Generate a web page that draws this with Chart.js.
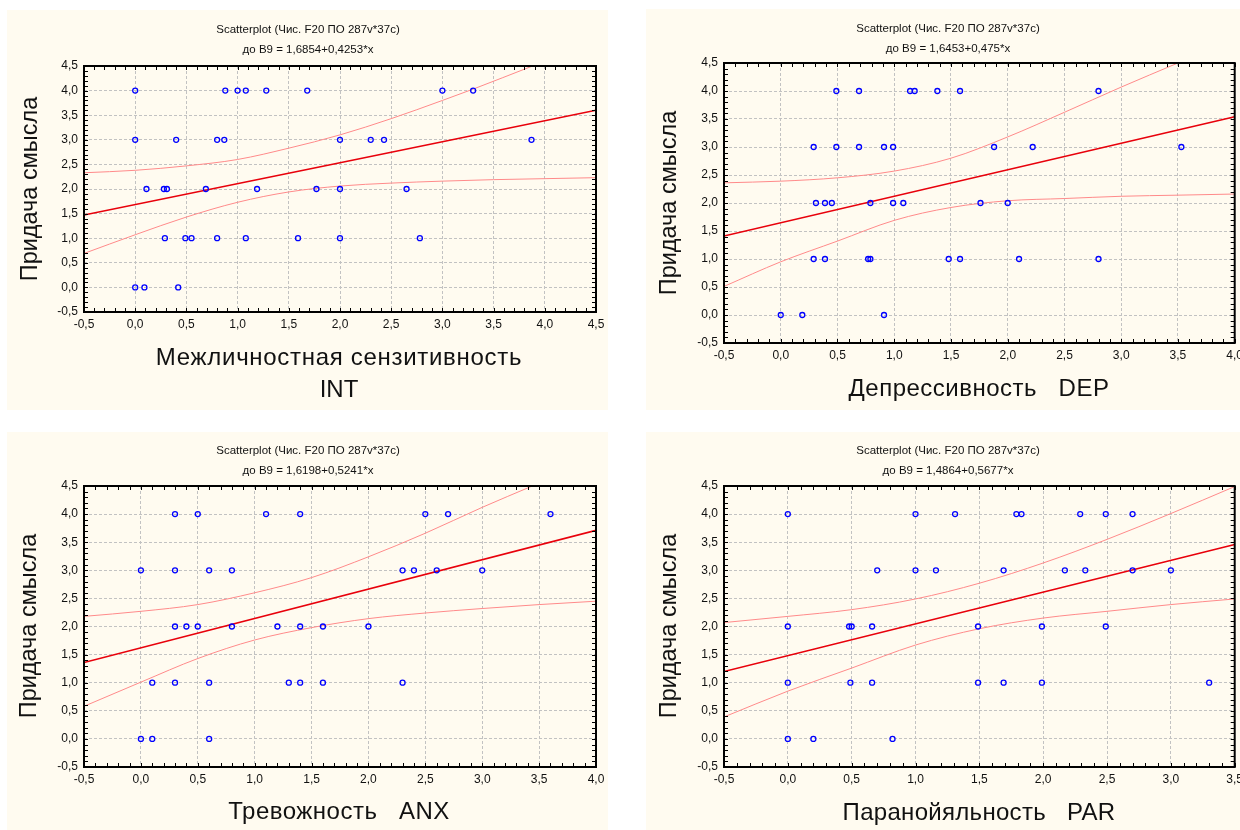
<!DOCTYPE html>
<html>
<head>
<meta charset="utf-8">
<script src="https://cdn.jsdelivr.net/npm/chart.js@4/dist/chart.umd.min.js"></script>
<style>
  body { margin: 0; width: 1240px; height: 830px; background: #fff; position: relative; overflow: hidden; }
  .panel { position: absolute; background: #fffbf0; }
  canvas { display: block; }
</style>
</head>
<body>
<div class="panel" style="left:7px;top:10px;width:601px;height:400px"><canvas id="c1" width="601" height="400"></canvas></div>
<div class="panel" style="left:646px;top:9px;width:594px;height:401px"><canvas id="c2" width="594" height="401"></canvas></div>
<div class="panel" style="left:7px;top:432px;width:601px;height:398px"><canvas id="c3" width="601" height="398"></canvas></div>
<div class="panel" style="left:646px;top:432px;width:594px;height:398px"><canvas id="c4" width="594" height="398"></canvas></div>
<script>
// ---- data ----
const yRange = [-0.5, 4.5]

// INT
const intRange = [-0.5, 4.5]
const intX = [0, 0.88, 1.0, 1.08, 1.28, 1.68, 3.0, 3.3,
  0, 0.4, 0.8, 0.87, 2.0, 2.3, 2.43, 3.87,
  0.11, 0.28, 0.31, 0.69, 1.19, 1.77, 2.0, 2.65,
  0.29, 0.49, 0.55, 0.8, 1.08, 1.59, 2.0, 2.78,
  0, 0.09, 0.42]
const intY = [4, 4, 4, 4, 4, 4, 4, 4,
  3, 3, 3, 3, 3, 3, 3, 3,
  2, 2, 2, 2, 2, 2, 2, 2,
  1, 1, 1, 1, 1, 1, 1, 1,
  0, 0, 0]
const intFitX = [-0.5, 4.5]
const intFitY = [1.47, 3.6]
const intUpX = [-0.5, 0, 0.5, 1, 1.5, 2, 2.5, 3, 3.3, 3.88]
const intUpY = [2.33, 2.38, 2.47, 2.6, 2.83, 3.1, 3.43, 3.8, 4.03, 4.5]
const intLoX = [-0.5, 0, 0.5, 1, 1.5, 2, 2.5, 3, 3.5, 4, 4.5]
const intLoY = [0.69, 1.07, 1.43, 1.73, 1.94, 2.06, 2.12, 2.16, 2.19, 2.21, 2.23]

// DEP
const depRange = [-0.5, 4.0]
const depX = [0.49, 0.69, 1.14, 1.18, 1.38, 1.58, 2.8,
  0.29, 0.49, 0.69, 0.91, 0.99, 1.88, 2.22, 3.53,
  0.31, 0.39, 0.45, 0.79, 0.99, 1.08, 1.76, 2.0,
  0.29, 0.39, 0.77, 0.79, 1.48, 1.58, 2.1, 2.8,
  0, 0.19, 0.91]
const depY = [4, 4, 4, 4, 4, 4, 4,
  3, 3, 3, 3, 3, 3, 3, 3,
  2, 2, 2, 2, 2, 2, 2, 2,
  1, 1, 1, 1, 1, 1, 1, 1,
  0, 0, 0]
const depFitX = [-0.5, 4.0]
const depFitY = [1.41, 3.54]
const depUpX = [-0.5, 0, 0.5, 1, 1.5, 2, 2.5, 3, 3.5]
const depUpY = [2.36, 2.39, 2.45, 2.57, 2.8, 3.18, 3.62, 4.07, 4.5]
const depLoX = [-0.5, 0, 0.5, 1, 1.5, 2, 2.5, 3, 3.5, 4]
const depLoY = [0.51, 0.95, 1.32, 1.69, 1.92, 2.04, 2.08, 2.12, 2.14, 2.16]

// ANX
const anxRange = [-0.5, 4.0]
const anxX = [0.3, 0.5, 1.1, 1.4, 2.5, 2.7, 3.6,
  0, 0.3, 0.6, 0.8, 2.3, 2.4, 2.6, 3.0,
  0.3, 0.4, 0.5, 0.8, 1.2, 1.4, 1.6, 2.0,
  0.1, 0.3, 0.6, 1.3, 1.4, 1.6, 2.3,
  0, 0.1, 0.6]
const anxY = [4, 4, 4, 4, 4, 4, 4,
  3, 3, 3, 3, 3, 3, 3, 3,
  2, 2, 2, 2, 2, 2, 2, 2,
  1, 1, 1, 1, 1, 1, 1,
  0, 0, 0]
const anxFitX = [-0.5, 4.0]
const anxFitY = [1.36, 3.71]
const anxUpX = [-0.5, 0, 0.5, 1, 1.5, 2, 2.5, 3, 3.44]
const anxUpY = [2.18, 2.27, 2.39, 2.6, 2.87, 3.24, 3.66, 4.12, 4.5]
const anxLoX = [-0.5, 0, 0.5, 1, 1.5, 2, 2.5, 3, 3.5, 4]
const anxLoY = [0.58, 1.01, 1.43, 1.76, 1.98, 2.14, 2.24, 2.32, 2.39, 2.45]

// PAR
const parRange = [-0.5, 3.5]
const parX = [0, 1.0, 1.31, 1.79, 1.83, 2.29, 2.49, 2.7,
  0.7, 1.0, 1.16, 1.69, 2.17, 2.33, 2.7, 3.0,
  0, 0.48, 0.5, 0.66, 1.49, 1.99, 2.49,
  0, 0.49, 0.66, 1.49, 1.69, 1.99, 3.3,
  0, 0.2, 0.82]
const parY = [4, 4, 4, 4, 4, 4, 4, 4,
  3, 3, 3, 3, 3, 3, 3, 3,
  2, 2, 2, 2, 2, 2, 2,
  1, 1, 1, 1, 1, 1, 1,
  0, 0, 0]
const parFitX = [-0.5, 3.5]
const parFitY = [1.2, 3.46]
const parUpX = [-0.5, 0, 0.5, 1, 1.5, 2, 2.5, 3, 3.5]
const parUpY = [2.07, 2.18, 2.3, 2.49, 2.77, 3.13, 3.55, 4.01, 4.49]
const parLoX = [-0.5, 0, 0.5, 1, 1.5, 2, 2.5, 3, 3.5]
const parLoY = [0.39, 0.85, 1.26, 1.67, 1.96, 2.15, 2.27, 2.39, 2.49]

const yTitle = 'Придача смысла'
const heading = 'Scatterplot (Чис. F20 ПО 287v*37c)'

// ---- drawing ----
const FONT = '"Liberation Sans", Arial, sans-serif'
const pts = (xs, ys) => xs.map((x, i) => ({x, y: ys[i]}))
const fmt = v => (Math.round(v * 10) / 10).toFixed(1).replace('.', ',')

const framePlugin = {
  id: 'frame',
  afterDraw(chart) {
    const {ctx, chartArea: a, scales: {x, y}} = chart
    ctx.save()
    ctx.strokeStyle = '#000'
    ctx.lineWidth = 1
    ctx.beginPath()
    for (let v = x.min; v <= x.max + 1e-6; v += 0.1) {
      const px = Math.round(x.getPixelForValue(v)) + 0.5
      ctx.moveTo(px, a.top); ctx.lineTo(px, a.top + 4)
      ctx.moveTo(px, a.bottom); ctx.lineTo(px, a.bottom - 4)
    }
    for (let v = y.min; v <= y.max + 1e-6; v += 0.1) {
      const py = Math.round(y.getPixelForValue(v)) + 0.5
      ctx.moveTo(a.left, py); ctx.lineTo(a.left + 4, py)
      ctx.moveTo(a.right, py); ctx.lineTo(a.right - 4, py)
    }
    ctx.stroke()
    ctx.lineWidth = 2
    ctx.strokeRect(a.left, a.top, a.right - a.left, a.bottom - a.top)
    ctx.restore()
  }
}

const textPlugin = {
  id: 'texts',
  afterDraw(chart, args, opts) {
    const {ctx} = chart
    ctx.save()
    ctx.fillStyle = '#111'
    ctx.textBaseline = 'alphabetic'
    for (const t of opts.items) {
      ctx.font = t.size + 'px ' + FONT
      ctx.letterSpacing = (t.ls || 0) + 'px'
      ctx.save()
      ctx.translate(t.x - opts.ox, t.y - opts.oy)
      if (t.rot) ctx.rotate(-Math.PI / 2)
      ctx.textAlign = 'center'
      ctx.fillText(t.text, 0, 0)
      ctx.restore()
    }
    ctx.restore()
  }
}

function makeChart(cfg) {
  const el = document.getElementById(cfg.id)
  const W = el.width, H = el.height
  const p = cfg.plot
  const lineSet = (xs, ys, color, width) => ({
    data: pts(xs, ys), showLine: true, borderColor: color, borderWidth: width,
    pointRadius: 0, cubicInterpolationMode: 'monotone', clip: 0, fill: false
  })
  new Chart(el, {
    type: 'scatter',
    data: {
      datasets: [
        {data: pts(cfg.x, cfg.y), pointRadius: 2.5, pointBorderWidth: 1.3,
          pointBorderColor: '#0000ff', pointBackgroundColor: 'rgba(0,0,0,0)', clip: 4},
        lineSet(cfg.upX, cfg.upY, '#ff8a8a', 1),
        lineSet(cfg.loX, cfg.loY, '#ff8a8a', 1),
        lineSet(cfg.fitX, cfg.fitY, '#e8000b', 1.6)
      ]
    },
    options: {
      responsive: false,
      animation: false,
      events: [],
      layout: {padding: {top: p.top, right: W - p.right, left: 0, bottom: 0}},
      plugins: {
        legend: {display: false},
        tooltip: {enabled: false},
        texts: {items: cfg.texts, ox: cfg.ox, oy: cfg.oy}
      },
      scales: {
        x: {
          type: 'linear', min: cfg.range[0], max: cfg.range[1],
          ticks: {stepSize: 0.5, callback: fmt, color: '#111', padding: 5, maxRotation: 0, autoSkip: false,
            font: {family: FONT, size: 12}},
          grid: {color: '#c2c2c2', drawTicks: false, lineWidth: 1},
          border: {display: false, dash: [3, 2]},
          afterFit(s) { s.height = H - p.bottom; s.paddingLeft = 0; s.paddingRight = 0 }
        },
        y: {
          type: 'linear', min: yRange[0], max: yRange[1],
          ticks: {stepSize: 0.5, callback: fmt, color: '#111', padding: 6, autoSkip: false,
            font: {family: FONT, size: 12}},
          grid: {color: '#c2c2c2', drawTicks: false, lineWidth: 1},
          border: {display: false, dash: [3, 2]},
          afterFit(s) { s.width = p.left; s.paddingTop = 0; s.paddingBottom = 0 }
        }
      }
    },
    plugins: [framePlugin, textPlugin]
  })
}

const heads = (cx, y1, sub) => [
  {text: heading, x: cx, y: y1, size: 11.5},
  {text: sub, x: cx, y: y1 + 20, size: 11.5}
]

makeChart({
  id: 'c1', ox: 7, oy: 10, range: intRange,
  plot: {left: 77, top: 56, right: 589, bottom: 302},
  x: intX, y: intY, fitX: intFitX, fitY: intFitY, upX: intUpX, upY: intUpY, loX: intLoX, loY: intLoY,
  texts: [...heads(308, 33, 'до B9 = 1,6854+0,4253*x'),
    {text: 'Межличностная сензитивность', x: 339, y: 365, size: 24, ls: 0.7},
    {text: 'INT', x: 339, y: 397, size: 24},
    {text: yTitle, x: 36.5, y: 189, size: 23.5, rot: true}]
})
makeChart({
  id: 'c2', ox: 646, oy: 9, range: depRange,
  plot: {left: 78, top: 54, right: 589, bottom: 334},
  x: depX, y: depY, fitX: depFitX, fitY: depFitY, upX: depUpX, upY: depUpY, loX: depLoX, loY: depLoY,
  texts: [...heads(948, 32, 'до B9 = 1,6453+0,475*x'),
    {text: 'Депрессивность   DEP', x: 979, y: 396, size: 24, ls: 0.5},
    {text: yTitle, x: 676, y: 203, size: 23.5, rot: true}]
})
makeChart({
  id: 'c3', ox: 7, oy: 432, range: anxRange,
  plot: {left: 77, top: 54, right: 589, bottom: 335},
  x: anxX, y: anxY, fitX: anxFitX, fitY: anxFitY, upX: anxUpX, upY: anxUpY, loX: anxLoX, loY: anxLoY,
  texts: [...heads(308, 454, 'до B9 = 1,6198+0,5241*x'),
    {text: 'Тревожность   ANX', x: 339, y: 819, size: 24, ls: 0.5},
    {text: yTitle, x: 36, y: 626, size: 23.5, rot: true}]
})
makeChart({
  id: 'c4', ox: 646, oy: 432, range: parRange,
  plot: {left: 78, top: 54, right: 589, bottom: 335},
  x: parX, y: parY, fitX: parFitX, fitY: parFitY, upX: parUpX, upY: parUpY, loX: parLoX, loY: parLoY,
  texts: [...heads(948, 454, 'до B9 = 1,4864+0,5677*x'),
    {text: 'Паранойяльность   PAR', x: 979, y: 820, size: 24, ls: 0.3},
    {text: yTitle, x: 676, y: 626, size: 23.5, rot: true}]
})
</script>
</body>
</html>
